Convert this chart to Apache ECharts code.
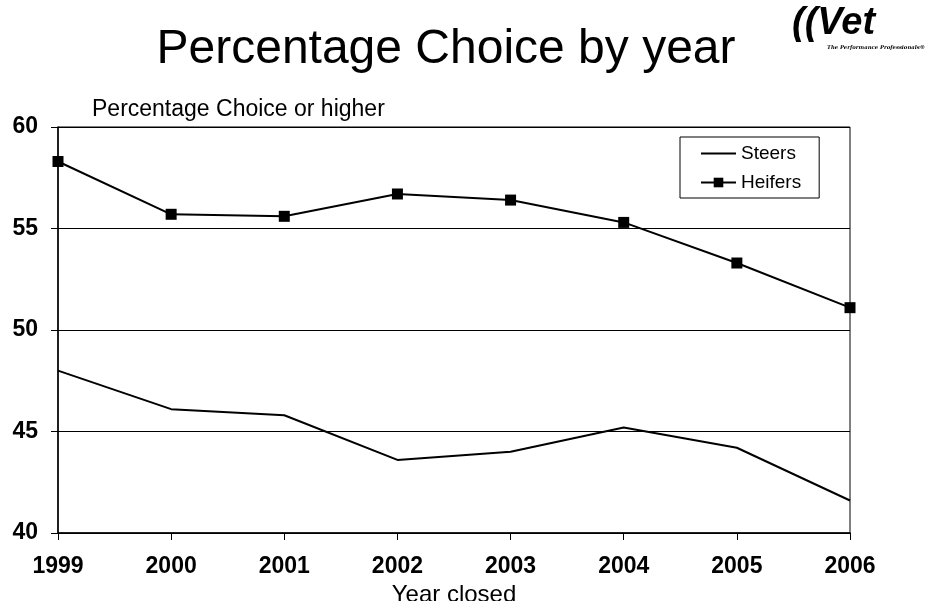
<!DOCTYPE html>
<html>
<head>
<meta charset="utf-8">
<script src="https://cdn.jsdelivr.net/npm/echarts@6/dist/echarts.min.js"></script>
<style>
  html, body { margin: 0; padding: 0; background: #fff; }
  #chart { width: 930px; height: 601px; }
</style>
</head>
<body>
<div id="chart"></div>
<script>
// 数据
var years = ["1999", "2000", "2001", "2002", "2003", "2004", "2005", "2006"];
var steers = [48.0, 46.1, 45.8, 43.6, 44.0, 45.2, 44.2, 41.6];
var heifers = [58.3, 55.7, 55.6, 56.7, 56.4, 55.3, 53.3, 51.1];
var yTicks = [40, 45, 50, 55, 60];

var font = "Liberation Sans, Arial, sans-serif";

var chart = echarts.init(document.getElementById("chart"));

var option = {
  backgroundColor: "#fff",
  animation: false,
  textStyle: { fontFamily: font, color: "#000" },
  title: [
    {
      text: "Percentage Choice by year",
      left: 441,
      top: 21,
      textAlign: "center",
      textStyle: { fontSize: 48, fontWeight: "normal", color: "#000", fontFamily: font }
    },
    {
      text: "Percentage Choice or higher",
      left: 87,
      top: 93,
      textStyle: { fontSize: 23, fontWeight: "normal", color: "#000", fontFamily: font }
    }
  ],
  legend: {
    orient: "vertical",
    left: 680,
    top: 137,
    padding: [7, 18, 6, 20],
    itemGap: 10,
    itemWidth: 35,
    itemHeight: 12,
    borderColor: "#000",
    borderWidth: 1,
    borderRadius: 0,
    backgroundColor: "#fff",
    textStyle: { fontSize: 19, color: "#000", fontFamily: font },
    data: [
      { name: "Steers", itemStyle: { opacity: 0 } },
      "Heifers"
    ]
  },
  grid: {
    left: 58,
    right: 80,
    top: 127,
    bottom: 68,
    outerBoundsMode: "none",
    show: true,
    borderColor: "#000",
    borderWidth: 1
  },
  xAxis: {
    type: "category",
    boundaryGap: false,
    data: years,
    name: "Year closed",
    nameLocation: "middle",
    nameGap: 44,
    nameTextStyle: { fontSize: 24, color: "#000", fontFamily: font },
    axisLine: { lineStyle: { color: "#000", width: 1.5 } },
    axisTick: { show: true, inside: false, length: 7, lineStyle: { color: "#000" } },
    axisLabel: { fontSize: 23, fontWeight: "bold", color: "#000", margin: 22, fontFamily: font },
    splitLine: { show: false }
  },
  yAxis: {
    type: "value",
    min: yTicks[0],
    max: yTicks[yTicks.length - 1],
    interval: 5,
    axisLine: { show: true, lineStyle: { color: "#000", width: 1.5 } },
    axisTick: { show: true, inside: false, length: 7, lineStyle: { color: "#000" } },
    axisLabel: { fontSize: 23, fontWeight: "bold", color: "#000", margin: 20, fontFamily: font },
    splitLine: { show: true, lineStyle: { color: "#000", width: 1 } }
  },
  graphic: [
    {
      type: "text",
      left: 792,
      top: 5,
      style: {
        text: "((Vet",
        font: "italic bold 38px " + font,
        fill: "#000"
      }
    },
    {
      type: "text",
      left: 827,
      top: 45,
      style: {
        text: "The Performance Professionals®",
        font: "italic bold 5.3px DejaVu Serif, serif",
        fill: "#000"
      }
    }
  ],
  series: [
    {
      name: "Steers",
      type: "line",
      data: steers,
      symbol: "none",
      lineStyle: { color: "#000", width: 2 },
      itemStyle: { color: "#000" }
    },
    {
      name: "Heifers",
      type: "line",
      data: heifers,
      symbol: "rect",
      symbolSize: 11,
      showSymbol: true,
      lineStyle: { color: "#000", width: 2 },
      itemStyle: { color: "#000" }
    }
  ]
};

chart.setOption(option);
</script>
</body>
</html>
